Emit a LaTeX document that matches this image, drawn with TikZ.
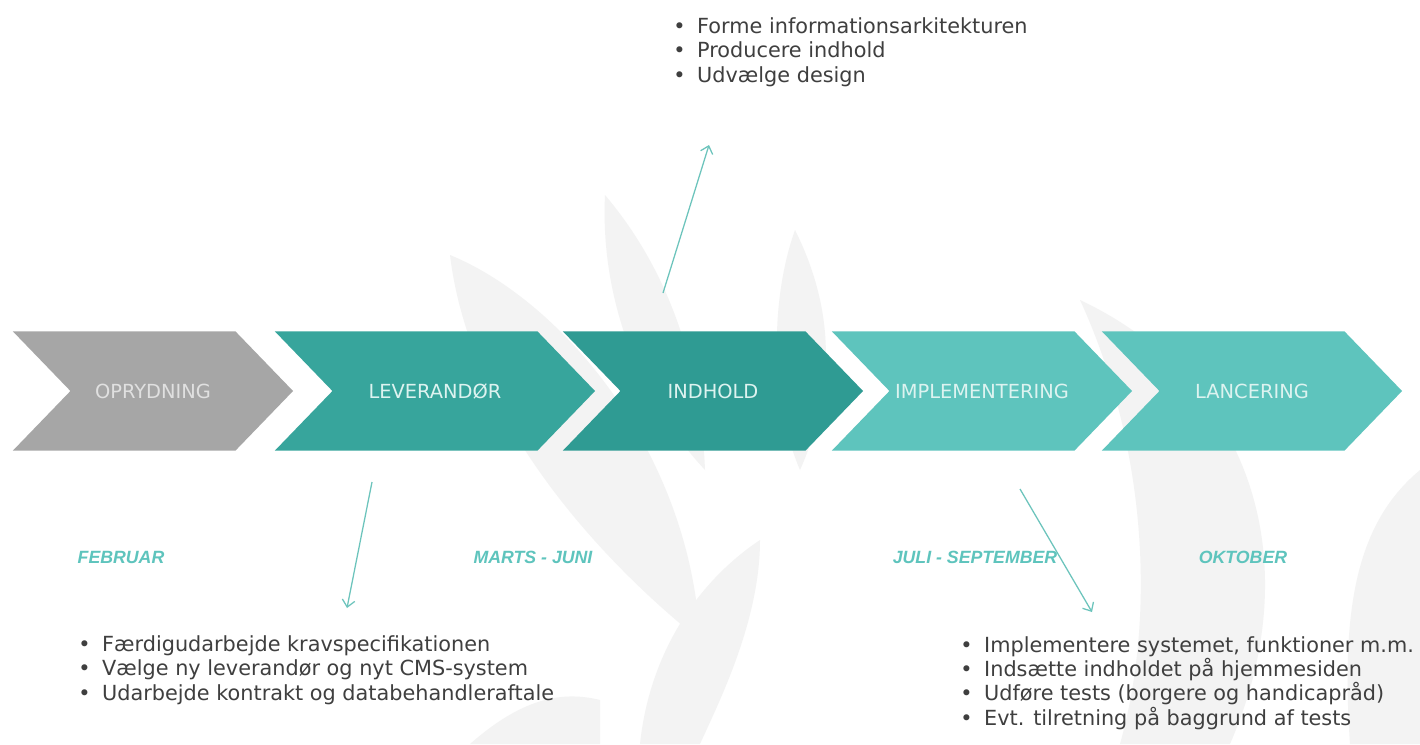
\documentclass[tikz,border=0pt]{standalone}
\usepackage{fontspec}
\setmainfont{DejaVu Sans}
\newfontfamily\monthfont{Liberation Sans}
\usetikzlibrary{shapes.symbols,arrows.meta,positioning}

\definecolor{phaseGray}{HTML}{A6A6A6}
\definecolor{phaseTeal}{HTML}{37A59C}
\definecolor{phaseDark}{HTML}{2F9B93}
\definecolor{phaseLight}{HTML}{5EC4BD}
\definecolor{labelMint}{HTML}{DDF3F0}
\definecolor{leafGray}{HTML}{F3F3F3}
\definecolor{taskText}{HTML}{3F3F3F}
\definecolor{pointerTeal}{HTML}{6CC4BC}

\newcommand{\taskitem}[1]{\makebox[17pt][l]{\textbullet}#1}

\tikzset{
	phase/.style={signal, signal from=west, signal to=east, signal pointer angle=92,
		minimum height=2.975cm, inner sep=0pt, text=labelMint,
		font=\fontsize{13.8}{15}\selectfont},
	month/.style={text=phaseLight, font=\monthfont\bfseries\itshape\fontsize{12.6}{14}\selectfont},
	tasks/.style={text=taskText, font=\fontsize{14.8}{17.4}\selectfont, align=left, anchor=west,
		inner sep=0pt},
	pointer/.style={draw=pointerTeal, line width=0.9pt, -{Straight Barb[length=5pt,width=9pt]}}
}

\begin{document}
\begin{tikzpicture}[x=0.025cm, y=-0.025cm]
		
		%Background
		\fill[white] (0,0) rectangle (1420,744);
		\useasboundingbox (0,0) rectangle (1420,744);
		
		%Leaves
		\fill[leafGray] (450,255) .. controls (560,300) and (690,450) .. (700,640) .. controls (600,560) and (470,420) .. (450,255);
		\fill[leafGray] (605,195) .. controls (660,260) and (700,350) .. (705,470) .. controls (640,400) and (600,300) .. (605,195);
		\fill[leafGray] (795,230) .. controls (830,300) and (840,380) .. (800,470) .. controls (770,400) and (770,300) .. (795,230);
		\fill[leafGray] (1080,300) .. controls (1250,380) and (1310,560) .. (1230,744) -- (1120,744) .. controls (1160,600) and (1140,430) .. (1080,300);
		\fill[leafGray] (640,744) .. controls (650,650) and (700,580) .. (760,540) .. controls (760,620) and (720,700) .. (700,744) -- cycle;
		\fill[leafGray] (1420,470) .. controls (1360,520) and (1340,600) .. (1350,744) -- (1420,744) -- cycle;
		\fill[leafGray] (470,744) .. controls (520,700) and (560,690) .. (600,700) -- (600,744) -- cycle;
		
		%Phases
		\node (oprydning) at (153,391) [phase, minimum width=7cm, fill=phaseGray, text=white!88!black] {OPRYDNING};
		\node (leverandor) at (435,391) [phase, minimum width=8cm, fill=phaseTeal] {LEVERANDØR};
		\node (indhold) at (713,391) [phase, minimum width=7.5cm, fill=phaseDark] {INDHOLD};
		\node (implementering) at (982,391) [phase, minimum width=7.5cm, fill=phaseLight] {IMPLEMENTERING};
		\node (lancering) at (1252,391) [phase, minimum width=7.5cm, fill=phaseLight] {LANCERING};
		
		%Months
		\node (februar) at (121,557) [month] {FEBRUAR};
		\node (martsJuni) at (533,557) [month] {MARTS - JUNI};
		\node (juliSeptember) at (975,557) [month] {JULI - SEPTEMBER};
		\node (oktober) at (1243,557) [month] {OKTOBER};
		
		%Tasks
		\node (indholdTasks) at (673,52) [tasks] {\taskitem{Forme informationsarkitekturen}\\
			\taskitem{Producere indhold}\\ \taskitem{Udvælge design}};
		\node (leverandorTasks) at (78,670) [tasks] {\taskitem{Færdigudarbejde kravspecifikationen}\\
			\taskitem{Vælge ny leverandør og nyt CMS-system}\\
			\taskitem{Udarbejde kontrakt og databehandleraftale}};
		\node (implementeringTasks) at (960,683) [tasks] {\taskitem{Implementere systemet, funktioner m.m.}\\
			\taskitem{Indsætte indholdet på hjemmesiden}\\
			\taskitem{Udføre tests (borgere og handicapråd)}\\
			\taskitem{Evt. tilretning på baggrund af tests}};
		
		%Pointers
		\coordinate (indholdFoot) at (663,293);
		\coordinate (indholdHead) at (709,145);
		\coordinate (leverandorFoot) at (372,482);
		\coordinate (leverandorHead) at (347,608);
		\coordinate (implementeringFoot) at (1020,489);
		\coordinate (implementeringHead) at (1092,612);
		\draw[pointer] (indholdFoot) -- (indholdHead);
		\draw[pointer] (leverandorFoot) -- (leverandorHead);
		\draw[pointer] (implementeringFoot) -- (implementeringHead);
		
		\end{tikzpicture}
\end{document}
